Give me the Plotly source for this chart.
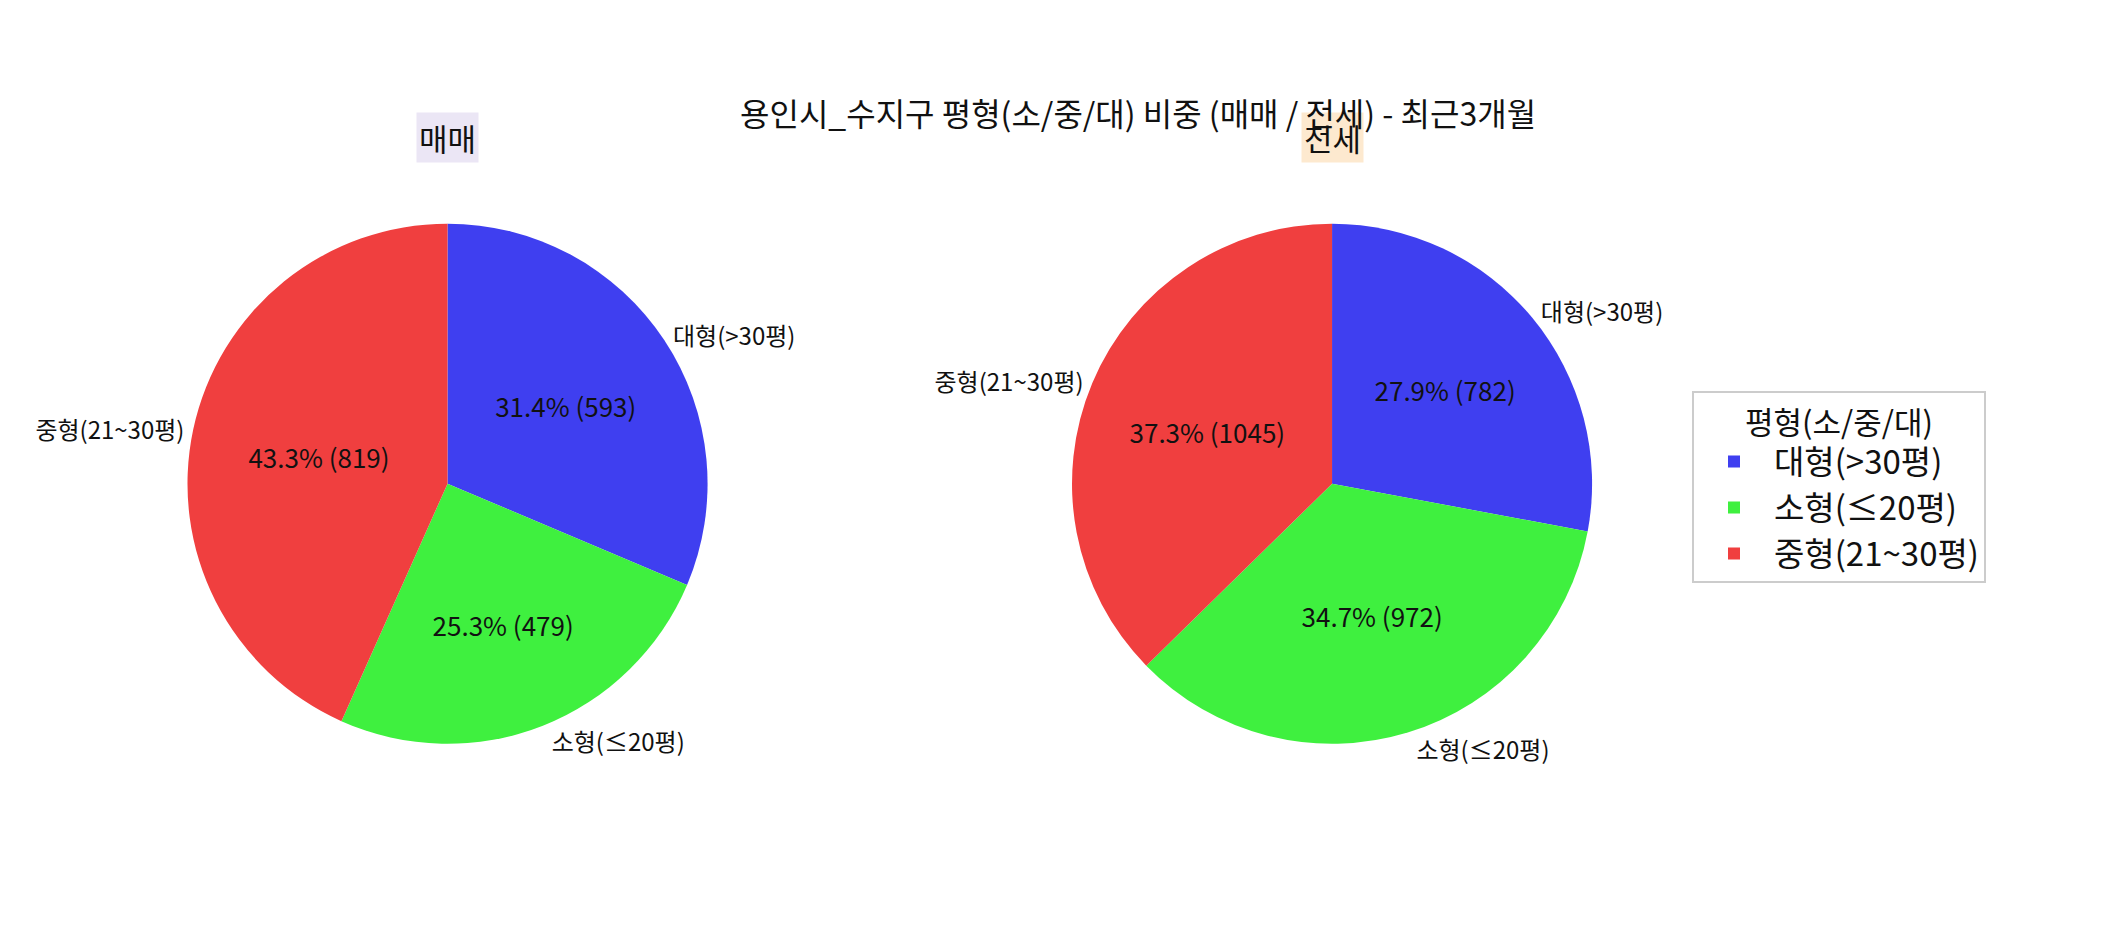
import plotly.graph_objects as go

# 평형 구분 (slice order follows the source: 대형, 소형, 중형)
size_labels = ["대형(>30평)", "소형(≤20평)", "중형(21~30평)"]
sale_counts = [593, 479, 819]      # 매매
jeonse_counts = [782, 972, 1045]   # 전세
slice_colors = ["#3f3ff0", "#3ff03f", "#f03f3f"]

chart_title = "용인시_수지구 평형(소/중/대) 비중 (매매 / 전세) - 최근3개월"
panel_titles = ["매매", "전세"]
panel_bg = ["#ebe6f5", "#fde9cf"]
legend_title = "평형(소/중/대)"

FONT = "Noto Sans CJK KR"

fig = go.Figure()

domains = [
    {"x": [0.0838, 0.3338], "y": [0.1950, 0.7640]},
    {"x": [0.5040, 0.7540], "y": [0.1950, 0.7640]},
]

for i, (counts, dom) in enumerate(zip([sale_counts, jeonse_counts], domains)):
    # colored slices with "pct (count)" inside
    fig.add_trace(go.Pie(
        labels=size_labels,
        values=counts,
        domain=dom,
        sort=False,
        direction="clockwise",
        rotation=0,
        marker=dict(colors=slice_colors, line=dict(width=0)),
        texttemplate="%{percent:.1%} (%{value})",
        textposition="inside",
        insidetextorientation="horizontal",
        textfont=dict(family=FONT, size=26, color="#111111"),
        showlegend=(i == 0),
        hovertemplate="%{label}: %{value} (%{percent:.1%})<extra></extra>",
    ))
    # transparent copy just to put the category names outside
    fig.add_trace(go.Pie(
        labels=size_labels,
        values=counts,
        domain=dom,
        sort=False,
        direction="clockwise",
        rotation=0,
        marker=dict(colors=["rgba(0,0,0,0)"] * 3, line=dict(width=0)),
        textinfo="label",
        textposition="outside",
        textfont=dict(family=FONT, size=24, color="#111111"),
        showlegend=False,
        hoverinfo="skip",
    ))

# panel titles with coloured boxes
for name, bg, dom in zip(panel_titles, panel_bg, domains):
    fig.add_annotation(
        x=(dom["x"][0] + dom["x"][1]) / 2, y=0.858,
        xref="paper", yref="paper",
        xanchor="center", yanchor="middle",
        text=name, showarrow=False,
        font=dict(family=FONT, size=31, color="#111111"),
        bgcolor=bg, borderpad=2,
    )

# main title as the last annotation so it sits above the 전세 box
fig.add_annotation(
    x=0.537, y=0.886, xref="paper", yref="paper",
    xanchor="center", yanchor="middle",
    text=chart_title, showarrow=False,
    font=dict(family=FONT, size=32, color="#111111"),
)

fig.update_layout(
    legend=dict(
        title=dict(text=legend_title, side="top center",
                   font=dict(family=FONT, size=31, color="#111111")),
        font=dict(family=FONT, size=33, color="#111111"),
        x=0.800, y=0.5806, xanchor="left", yanchor="top",
        itemwidth=70,
        bordercolor="#cccccc", borderwidth=2,
        bgcolor="white",
    ),
    margin=dict(l=0, r=0, t=0, b=0),
    paper_bgcolor="white",
    plot_bgcolor="white",
)

fig.write_html("out.html")
